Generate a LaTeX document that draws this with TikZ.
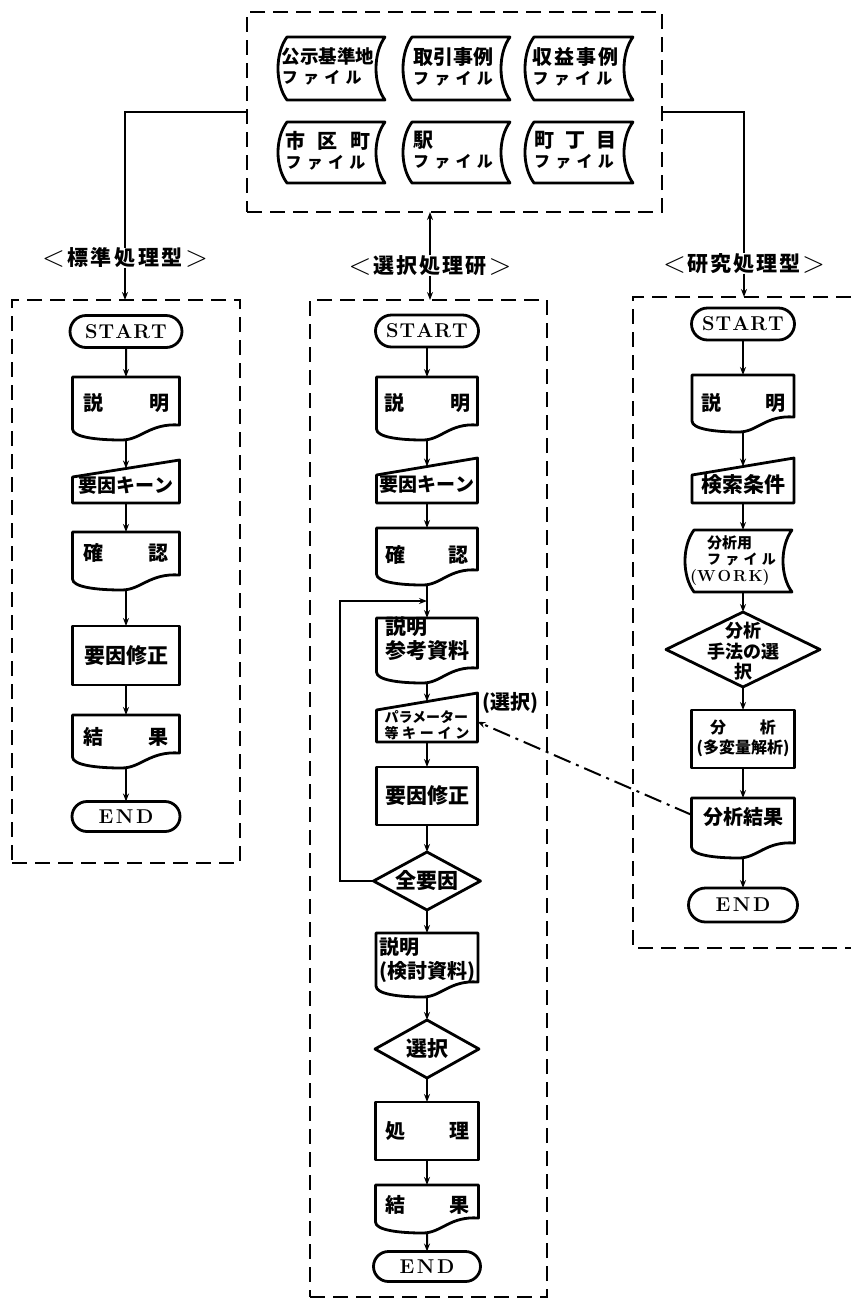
\documentclass[tikz,border=0pt]{standalone}
\usepackage{fontspec}
\newfontfamily\jp{Noto Sans CJK JP}
\usetikzlibrary{shapes.geometric,shapes.misc,calc,arrows.meta}

% font size with explicit line skip
\newcommand\fsz[2]{\fontsize{#1}{#2}\selectfont}
% characters spread over a fixed width
\newcommand\spr[2]{\makebox[#1pt]{#2}}
% move text up/down without changing its box
\newcommand\lift[2]{\raisebox{#1}[\height][\depth]{#2}}
\newcommand\rows[1]{\begin{tabular}{@{}l@{}}#1\end{tabular}}
\newcommand\crows[1]{\begin{tabular}{@{}c@{}}#1\end{tabular}}
% zero-size box for text inside diamonds
\newcommand\zbox[1]{\makebox[0pt]{\raisebox{0pt}[0pt][0pt]{#1}}}
\newcommand\fileline{{\fsz{16}{16}\spr{80}{フ\hfill ァ\hfill イ\hfill ル}}}
% angle brackets of the group headings
\newcommand\lb{{\rmfamily\mdseries\fsz{30}{21}\raisebox{-1pt}{<}}}
\newcommand\rb{{\rmfamily\mdseries\fsz{30}{21}\raisebox{-1pt}{>}}}
\newcommand\startword{{\bfseries S\kern1pt T\kern1pt A\kern1pt R\kern1pt T}}
\newcommand\stopword{{\bfseries E\kern2.5pt N\kern2.5pt D}}

% outlines drawn around named (invisible) rectangle nodes
\newcommand\docshape[1]{%
  \draw[shp] (#1.north west) -- (#1.north east)
    -- ($(#1.south east)+(0pt,15pt)$)
    .. controls ($(#1.south west)!0.72!(#1.south east)+(0pt,17pt)$) and ($(#1.south west)!0.64!(#1.south east)$)
    .. ($(#1.south west)!0.46!(#1.south east)$)
    .. controls ($(#1.south west)!0.22!(#1.south east)$) and ($(#1.south west)+(0pt,3pt)$)
    .. ($(#1.south west)+(0pt,11pt)$) -- cycle;}
\newcommand\manshape[1]{%
  \draw[shp] (#1.south west) -- ($(#1.north west)+(0pt,-8.5pt)$)
    -- ($(#1.north east)+(0pt,8.5pt)$) -- (#1.south east) -- cycle;}
\newcommand\fileshape[1]{%
  \draw[shp] (#1.south west)
    .. controls ($(#1.south west)+(-12pt,16pt)$) and ($(#1.north west)+(-12pt,-16pt)$) .. (#1.north west)
    -- (#1.north east)
    .. controls ($(#1.north east)+(-12pt,-16pt)$) and ($(#1.south east)+(-12pt,16pt)$) .. (#1.south east)
    -- cycle;}

\begin{document}
\begin{tikzpicture}[x=1pt,y=-1pt,
  every node/.style={inner sep=0pt,outer sep=0pt},
  shp/.style={line width=2.8pt,line join=round},
  cn/.style={line width=2pt},
  arr/.style={cn,-{Stealth[length=8pt,width=6pt]}},
  grp/.style={line width=2.6pt,dash pattern=on 15pt off 8pt},
  chain/.style={line width=2pt,dash pattern=on 18pt off 6pt on 3pt off 6pt},
  sz/.style 2 args={minimum width=#1pt,minimum height=#2pt},
  jp/.style={font=\jp\bfseries\fsz{20}{20}},
  lab/.style={font=\jp\bfseries\fsz{21}{21}},
  term/.style={rounded rectangle,draw,shp,font=\fsz{20}{20}},
  proc/.style={rectangle,draw,shp,jp},
  dec/.style={diamond,draw,shp,jp},
  plain/.style={rectangle,jp},
  file/.style={rectangle,jp},
]
\path[use as bounding box,fill=white] (0,0) rectangle (851,1302);

% ---------- data files ----------
\node[grp,draw,sz={415}{200}] (files) at (454.5,112) {};
\node[file,sz={98}{63}] (f1) at (336,68.5) {\kern-8pt\rows{\fsz{18.5}{20}公示基準地\\\fileline}\kern8pt};
\node[file,sz={98}{63}] (f2) at (461,68.5) {\kern-8pt\rows{取引事例\\\fileline}\kern8pt};
\node[file,sz={99}{63}] (f3) at (583.5,68.5) {\kern-8pt\rows{\spr{86}{収\hfill 益\hfill 事\hfill 例}\\\fileline}\kern8pt};
\node[file,sz={98}{61}] (f4) at (336,152.5) {\kern-8pt\rows{\spr{85}{市\hfill 区\hfill 町}\\\fileline}\kern8pt};
\node[file,sz={98}{61}] (f5) at (461,152.5) {\kern-8pt\rows{駅\\\fileline}\kern8pt};
\node[file,sz={99}{61}] (f6) at (583.5,152.5) {\kern-8pt\rows{\spr{83}{町\hfill 丁\hfill 目}\\\fileline}\kern8pt};
\foreach \f in {f1,f2,f3,f4,f5,f6} {\fileshape{\f}}

% ---------- group headings ----------
\node[lab] (labA) at (125,258) {\spr{166}{\lb\hfill 標\hfill 準\hfill 処\hfill 理\hfill 型\hfill \rb}};
\node[lab] (labB) at (430,265.5) {\spr{163}{\lb\hfill 選\hfill 択\hfill 処\hfill 理\hfill 研\hfill \rb}};
\node[lab] (labC) at (744,263.5) {\spr{162}{\lb\hfill 研\hfill 究\hfill 処\hfill 理\hfill 型\hfill \rb}};

% ---------- group frames ----------
\node[grp,draw,sz={228}{563}] (gA) at (126,581.5) {};
\node[grp,draw,sz={237}{997}] (gB) at (428.5,798.5) {};
\node[sz={218}{651}] (gC) at (742,622.5) {};
\draw[grp] (gC.north east) -- (gC.north west) -- (gC.south west) -- (gC.south east);

\draw[cn] (files.west) -| (labA.north);
\draw[arr] (labA.south) -- (labA.south |- gA.north);
\draw[arr] (labB.north) -- (labB.north |- files.south);
\draw[arr] (labB.south) -- (labB.south |- gB.north);
\draw[cn] (files.east) -| (labC.north);
\draw[arr] (labC.south) -- (labC.south |- gC.north);

% ---------- standard processing ----------
\node[term,sz={112}{32}] (sA) at (126,331.5) {\startword};
\node[plain,sz={107}{63}] (dA1) at (126,408.5) {\lift{5.5pt}{\spr{86}{説\hfill 明}}};
\node[plain,sz={107}{34.5}] (mA) at (126,485.75) {\fsz{19}{19}要因キーン};
\node[plain,sz={107}{58}] (dA2) at (126,561) {\lift{8pt}{\spr{85}{確\hfill 認}}};
\node[proc,sz={107}{59}] (pA) at (126,655.5) {\fsz{21}{21}要因修正};
\node[plain,sz={107}{53}] (dA3) at (126,741.5) {\lift{4.5pt}{\spr{85}{結\hfill 果}}};
\node[term,sz={108}{30}] (eA) at (126,816.5) {\stopword};
\docshape{dA1}\manshape{mA}\docshape{dA2}\docshape{dA3}

% ---------- selective processing ----------
\node[term,sz={103}{32}] (sB) at (427,331) {\startword};
\node[plain,sz={101}{63}] (dB1) at (427,408.5) {\lift{5.5pt}{\spr{86}{説\hfill 明}}};
\node[plain,sz={101}{36.5}] (mB) at (427,484.75) {\fsz{19}{19}要因キーン};
\node[plain,sz={101}{57}] (dB2) at (427,556.5) {\lift{2pt}{\spr{83}{確\hfill 認}}};
\coordinate (join) at (427,601);
\coordinate (lp) at (340,601);
\node[plain,sz={101}{65}] (dB3) at (427,650.5) {\lift{9.5pt}{\fsz{21}{22}\rows{説明\\参考資料}}};
\node[plain,sz={101}{40.5}] (mB2) at (427,721.75) {\lift{-5pt}{\fsz{14}{15}\rows{パラメーター\\\spr{85}{等\hfill キ\hfill ー\hfill イ\hfill ン}}}};
\node[jp] (sel) at (510,703) {(選択)};
\node[proc,sz={101}{58}] (pB) at (427,796) {\fsz{21}{21}要因修正};
\node[dec,sz={107}{58}] (zB) at (427,881) {\zbox{\raisebox{-7.5pt}{\fsz{21}{21}全要因}}};
\node[plain,sz={102}{64}] (dB4) at (427,965) {\lift{4pt}{\fsz{20}{22}\rows{説明\\(検討資料)}}};
\node[dec,sz={104}{58}] (xB) at (427,1049) {\zbox{\raisebox{-7.5pt}{\fsz{21}{21}選択}}};
\node[proc,sz={103}{58}] (pB2) at (427,1131) {\spr{84}{処\hfill 理}};
\node[plain,sz={103}{48}] (dB5) at (427,1209) {\lift{4pt}{\spr{84}{結\hfill 果}}};
\node[term,sz={107}{30}] (eB) at (427,1266.5) {\stopword};
\docshape{dB1}\manshape{mB}\docshape{dB2}\docshape{dB3}\manshape{mB2}\docshape{dB4}\docshape{dB5}

% ---------- research processing ----------
\node[term,sz={103}{32}] (sC) at (743,324) {\startword};
\node[plain,sz={102}{57}] (dC1) at (743,403.5) {\lift{0.5pt}{\spr{84}{説\hfill 明}}};
\node[plain,sz={102}{36.5}] (mC) at (743,484.75) {\fsz{21}{21}検索条件};
\node[file,sz={98}{62}] (fC) at (743,561) {\kern-10pt\fsz{15}{15.5}\rows{\hspace*{17pt}分析用\\\hspace*{17pt}{\fsz{14}{15.5}\spr{69}{フ\hfill ァ\hfill イ\hfill ル}}\\{\rmfamily\fsz{16}{15.5}(W\kern2pt O\kern2pt R\kern2pt K)}}\kern10pt};
\node[dec,sz={154}{75}] (dmC) at (743,649.5) {\zbox{\raisebox{-8pt}{\fsz{18}{17}\crows{分析\\手法の選\\択}}}};
\node[proc,sz={103}{58}] (pC) at (743,739) {\fsz{16}{20}\crows{\spr{66}{分\hfill 析}\\(多変量解析)}};
\node[plain,sz={103}{60}] (dC2) at (743,828) {\lift{11pt}{分析結果}};
\node[term,sz={109}{34}] (eC) at (743,905) {\stopword};
\docshape{dC1}\manshape{mC}\fileshape{fC}\docshape{dC2}

% ---------- flow lines ----------
\foreach \a/\b in {sA/dA1,dA1/mA,mA/dA2,dA2/pA,pA/dA3,dA3/eA,
                   sB/dB1,dB1/mB,mB/dB2,dB2/dB3,dB3/mB2,mB2/pB,pB/zB,zB/dB4,dB4/xB,xB/pB2,pB2/dB5,dB5/eB,
                   sC/dC1,dC1/mC,mC/fC,fC/dmC,dmC/pC,pC/dC2,dC2/eC}
  {\draw[arr] (\a) -- (\b);}
\draw[arr] (zB.west) -| (lp) -- (join);
\draw[chain,-{Stealth[length=8pt,width=6pt]}] ($(dC2.north west)!0.28!(dC2.south west)$) -- (mB2.east);
\end{tikzpicture}
\end{document}
